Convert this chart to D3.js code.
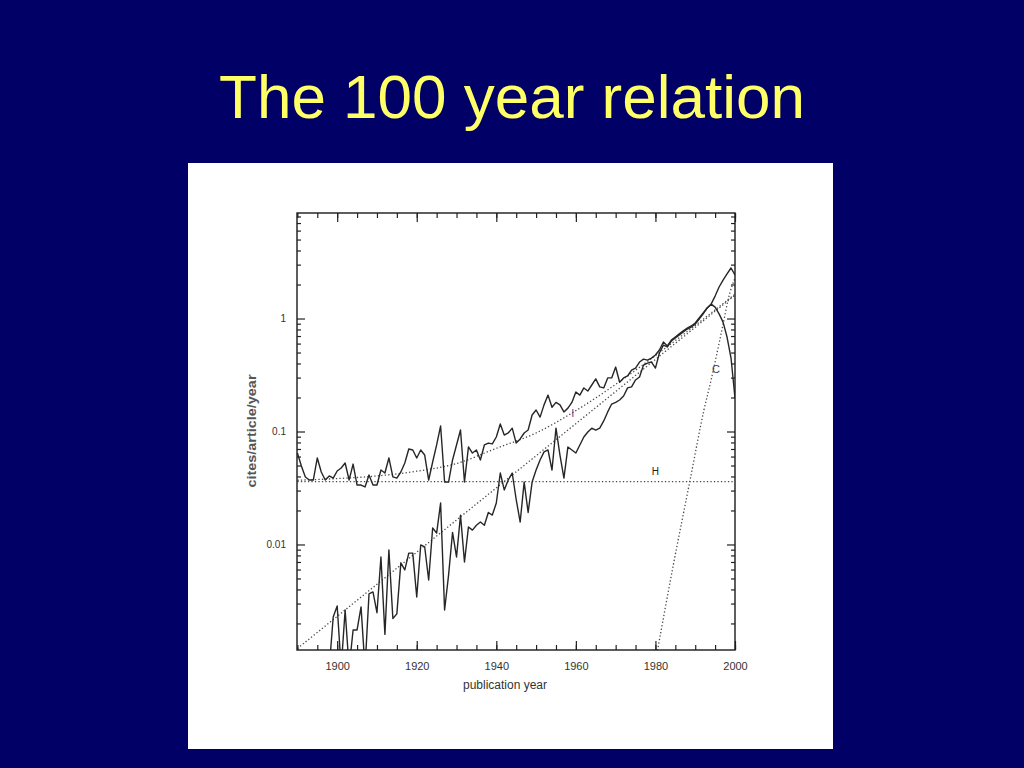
<!DOCTYPE html>
<html><head><meta charset="utf-8">
<script src="https://cdn.jsdelivr.net/npm/d3@7"></script>
<style>
html,body{margin:0;padding:0;background:#000066;}
svg{display:block;}
text{font-family:"Liberation Sans",Arial,Helvetica,sans-serif;}
</style></head>
<body>
<svg id="chart" width="1024" height="768"></svg>
<script>
// ---------------- data ----------------
const titleText = "The 100 year relation";
const xLabelText = "publication year";
const yLabelText = "cites/article/year";

const upperStart = 1890;
const upperValues = [
  0.0645, 0.0495, 0.0396, 0.0372, 0.0372, 0.0583, 0.0438, 0.0372, 0.0404, 0.0387,
  0.0447, 0.0475, 0.0526, 0.0372, 0.0515, 0.0336, 0.0336, 0.0323, 0.0412, 0.0336,
  0.0336, 0.0456, 0.0429, 0.0583, 0.0396, 0.0387, 0.0438, 0.0526, 0.0700, 0.0686,
  0.0583, 0.0686, 0.0619, 0.0372, 0.0537, 0.076, 0.112, 0.0357, 0.0357, 0.0560,
  0.076, 0.103, 0.0357, 0.073, 0.0645, 0.0686, 0.0560, 0.076, 0.079, 0.0776,
  0.0894, 0.1165, 0.093, 0.097, 0.107, 0.079, 0.086, 0.097, 0.103, 0.140,
  0.155, 0.134, 0.172, 0.210, 0.164, 0.181, 0.172, 0.149, 0.161, 0.181,
  0.224, 0.210, 0.243, 0.228, 0.258, 0.292, 0.248, 0.243, 0.298, 0.298,
  0.372, 0.273, 0.298, 0.310, 0.349, 0.364, 0.412, 0.437, 0.428, 0.446,
  0.475, 0.527, 0.620, 0.572, 0.645, 0.687, 0.731, 0.777, 0.824, 0.859,
  0.912, 1.01, 1.12, 1.24, 1.34, 1.58, 1.90, 2.19, 2.48, 2.80,
  2.43
];

const lowerStart = 1898;
const lowerValues = [
  0.0008, 0.00228,
  0.00286, 0.0008, 0.00263, 0.0008, 0.00175, 0.00175, 0.00280, 0.0008, 0.00365, 0.00380,
  0.00249, 0.00775, 0.00160, 0.00894, 0.00221, 0.00243, 0.00688, 0.00595, 0.00838, 0.00838,
  0.00343, 0.0099, 0.0095, 0.00485, 0.0140, 0.0126, 0.0233, 0.00263, 0.00535, 0.0128,
  0.00775, 0.0182, 0.00700, 0.0143, 0.0134, 0.0148, 0.0158, 0.0148, 0.0192, 0.0182,
  0.0233, 0.0429, 0.0304, 0.0372, 0.0429, 0.0250, 0.0158, 0.0357, 0.0192, 0.0357,
  0.0456, 0.0560, 0.066, 0.0686, 0.0456, 0.107, 0.0619, 0.0387, 0.073, 0.0686,
  0.0645, 0.076, 0.0894, 0.099, 0.107, 0.103, 0.107, 0.124, 0.149, 0.175,
  0.181, 0.190, 0.206, 0.243, 0.248, 0.286, 0.304, 0.387, 0.403, 0.412,
  0.364, 0.495, 0.582, 0.560, 0.632, 0.673, 0.716, 0.760, 0.807, 0.841,
  0.893, 0.99, 1.10, 1.24, 1.34, 1.26, 1.10, 0.93, 0.686, 0.447,
  0.198
];

// dotted model curves
const hValue = 0.036;
const hYears = [1890, 2000];
const expYears = [1890, 2000];
const expValues = [0.0012, 1.61];
const iYears = [1890, 1900, 1910, 1920, 1930, 1940, 1950, 1960, 1970, 1980, 1990, 2000];
const iValues = [0.037, 0.0383, 0.0404, 0.0445, 0.052, 0.071, 0.097, 0.153, 0.261, 0.47, 0.869, 1.64];
const cYears = [1980.2, 1984.5, 1988.7, 1992.2, 1994.0, 1996.5, 1998.7, 2000];
const cValues = [0.001, 0.0066, 0.037, 0.155, 0.286, 0.73, 1.68, 2.28];

// curve labels
const curveLabels = [
  {text: "H", year: 1980, value: 0.041, color: "#222", size: 10},
  {text: "I", year: 1959.2, value: 0.134, color: "#6e3f86", size: 11},
  {text: "C", year: 1995.2, value: 0.33, color: "#34405e", size: 11}
];

const xMajorTicks = [1900, 1920, 1940, 1960, 1980, 2000];
const xMinorTicks = [1890, 1895, 1900, 1905, 1910, 1915, 1920, 1925, 1930, 1935, 1940, 1945, 1950, 1955, 1960, 1965, 1970, 1975, 1980, 1985, 1990, 1995, 2000];
const yMajorTicks = [0.01, 0.1, 1];
const yTickLabels = ["0.01", "0.1", "1"];
const yMinorTicks = [0.002,0.003,0.004,0.005,0.006,0.007,0.008,0.009,
                     0.02,0.03,0.04,0.05,0.06,0.07,0.08,0.09,
                     0.2,0.3,0.4,0.5,0.6,0.7,0.8,0.9,
                     2,3,4,5,6,7,8];

// ---------------- drawing ----------------
const svg = d3.select("#chart");
svg.append("rect").attr("width", 1024).attr("height", 768).attr("fill", "#000066");

svg.append("text").attr("x", 512).attr("y", 118).attr("text-anchor", "middle")
  .attr("font-size", 62).attr("fill", "#ffff66").text(titleText);

svg.append("rect").attr("x", 188).attr("y", 163).attr("width", 645).attr("height", 586).attr("fill", "#ffffff");

const L = 297, R = 735, T = 213, B = 650;
const x = d3.scaleLinear().domain([1889.9, 2000]).range([L, R]);
const y = d3.scaleLog().domain([0.001164, 8.59]).range([B, T]);

const defs = svg.append("defs");
defs.append("clipPath").attr("id", "plotclip").append("rect")
  .attr("x", L).attr("y", T).attr("width", R - L).attr("height", B - T);

const plot = svg.append("g").attr("clip-path", "url(#plotclip)");

const upper = upperValues.map((v, i) => [upperStart + i, v]);
const lower = lowerValues.map((v, i) => [lowerStart + i, v]);
const line = d3.line().x(d => x(d[0])).y(d => y(d[1]));
const smooth = d3.line().x(d => x(d[0])).y(d => y(d[1])).curve(d3.curveMonotoneX);

const dotStyle = sel => sel.attr("fill", "none").attr("stroke", "#4a4a4a")
  .attr("stroke-width", 1.3).attr("stroke-dasharray", "1.3,2.2");

plot.append("path").datum(hYears.map(yr => [yr, hValue])).attr("d", line).call(dotStyle);
plot.append("path").datum(expYears.map((yr, i) => [yr, expValues[i]])).attr("d", line).call(dotStyle);
plot.append("path").datum(iYears.map((yr, i) => [yr, iValues[i]])).attr("d", smooth).call(dotStyle);
plot.append("path").datum(cYears.map((yr, i) => [yr, cValues[i]])).attr("d", smooth).call(dotStyle);

const solidStyle = sel => sel.attr("fill", "none").attr("stroke", "#262626")
  .attr("stroke-width", 1.4).attr("stroke-linejoin", "round");
plot.append("path").datum(upper).attr("d", line).call(solidStyle);
plot.append("path").datum(lower).attr("d", line).call(solidStyle);

// curve labels
svg.selectAll("text.clab").data(curveLabels).enter().append("text")
  .attr("class", "clab")
  .attr("x", d => x(d.year)).attr("y", d => y(d.value))
  .attr("text-anchor", "middle").attr("font-size", d => d.size)
  .attr("fill", d => d.color).text(d => d.text);

// axes
const axisColor = "#222";
function styleAxis(g) {
  g.select(".domain").remove();
  g.selectAll(".tick line").attr("stroke", axisColor).attr("stroke-width", 1.2);
  g.selectAll(".tick text").attr("fill", "#333").attr("font-family", '"Liberation Sans",Arial,sans-serif');
}

// bottom
svg.append("g").attr("transform", `translate(0,${B})`)
  .call(d3.axisBottom(x).tickValues(xMinorTicks).tickSizeInner(-5).tickSizeOuter(0).tickFormat(""))
  .call(styleAxis);
svg.append("g").attr("transform", `translate(0,${B})`)
  .call(d3.axisBottom(x).tickValues(xMajorTicks).tickSizeInner(-9).tickSizeOuter(0).tickPadding(12).tickFormat(d3.format("d")))
  .call(styleAxis)
  .call(g => g.selectAll(".tick text").attr("font-size", 11));
// top
svg.append("g").attr("transform", `translate(0,${T})`)
  .call(d3.axisTop(x).tickValues(xMinorTicks).tickSizeInner(-5).tickSizeOuter(0).tickFormat(""))
  .call(styleAxis);
svg.append("g").attr("transform", `translate(0,${T})`)
  .call(d3.axisTop(x).tickValues(xMajorTicks).tickSizeInner(-9).tickSizeOuter(0).tickFormat(""))
  .call(styleAxis);
// left
svg.append("g").attr("transform", `translate(${L},0)`)
  .call(d3.axisLeft(y).tickValues(yMinorTicks).tickSizeInner(-4).tickSizeOuter(0).tickFormat(""))
  .call(styleAxis);
svg.append("g").attr("transform", `translate(${L},0)`)
  .call(d3.axisLeft(y).tickValues(yMajorTicks).tickSizeInner(-8).tickSizeOuter(0).tickPadding(11)
    .tickFormat((d, i) => yTickLabels[i]))
  .call(styleAxis)
  .call(g => g.selectAll(".tick text").attr("font-size", 10));
// right
svg.append("g").attr("transform", `translate(${R},0)`)
  .call(d3.axisRight(y).tickValues(yMinorTicks).tickSizeInner(-4).tickSizeOuter(0).tickFormat(""))
  .call(styleAxis);
svg.append("g").attr("transform", `translate(${R},0)`)
  .call(d3.axisRight(y).tickValues(yMajorTicks).tickSizeInner(-8).tickSizeOuter(0).tickFormat(""))
  .call(styleAxis);

// frame
svg.append("rect").attr("x", L).attr("y", T).attr("width", R - L).attr("height", B - T)
  .attr("fill", "none").attr("stroke", "#1a1a1a").attr("stroke-width", 1.4);

// axis titles
svg.append("text").attr("x", 505).attr("y", 689).attr("text-anchor", "middle")
  .attr("font-size", 12).attr("fill", "#333").text(xLabelText);
svg.append("text").attr("transform", "translate(256,431) rotate(-90)")
  .attr("text-anchor", "middle").attr("font-size", 12).attr("font-weight", "bold")
  .attr("fill", "#555").attr("textLength", 113).attr("lengthAdjust", "spacingAndGlyphs")
  .text(yLabelText);
</script>
</body></html>
